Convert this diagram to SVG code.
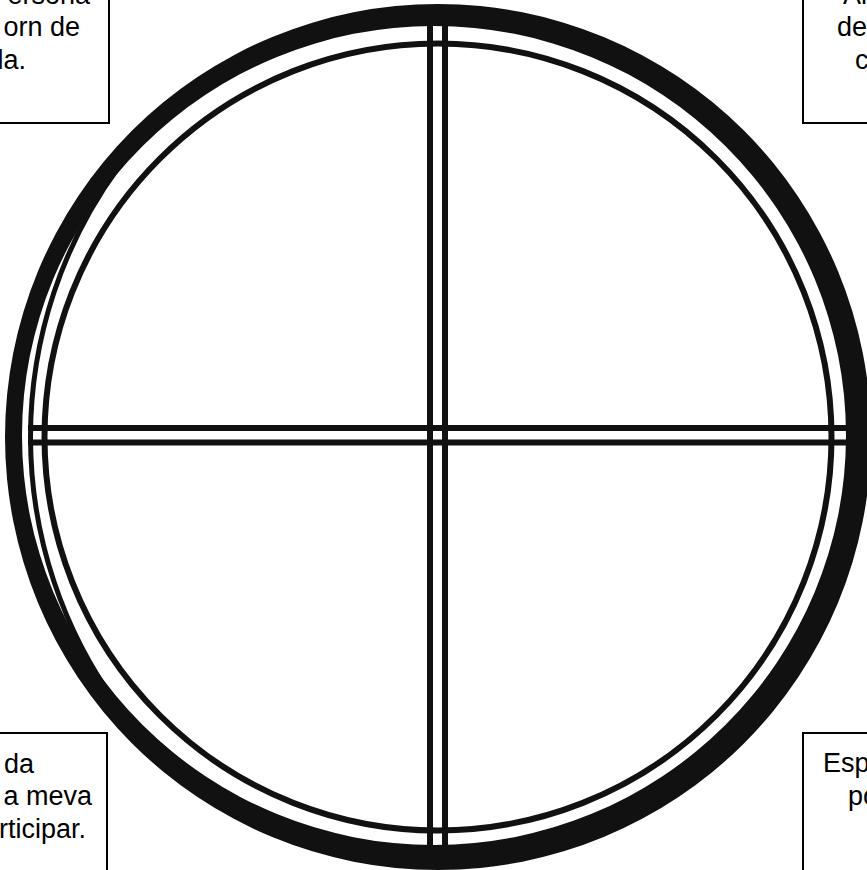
<svg xmlns="http://www.w3.org/2000/svg" width="867" height="870" viewBox="0 0 867 870">
  <style>
    .box { fill: #ffffff; stroke: #000000; stroke-width: 2; }
    .txt { font-family: "Liberation Sans", Arial, sans-serif; font-size: 27px; fill: #000000; }
    .ring { fill: none; stroke: #111111; }
    .bar { stroke: #111111; stroke-width: 6; }
  </style>
  <rect width="867" height="870" fill="#ffffff"/>

  <g id="wheel">
    <path d="M5,437 a433,433 0 1,0 866,0 a433,433 0 1,0 -866,0 M22,435.5 a412,409.5 0 1,0 824,0 a412,409.5 0 1,0 -824,0" fill="#111111" fill-rule="evenodd"/>
    <path class="ring" d="M117.8,168.3 A457.2,457.2 0 0,0 117.8,705.7" stroke-width="5"/>
    <circle class="ring" cx="438" cy="437" r="393.5" stroke-width="6"/>
  </g>

  <g id="cross">
    <line class="bar" x1="430" y1="24" x2="430" y2="848"/>
    <line class="bar" x1="445" y1="24" x2="445" y2="848"/>
    <line class="bar" x1="28" y1="428" x2="848" y2="428"/>
    <line class="bar" x1="28" y1="442.5" x2="848" y2="442.5"/>
  </g>

  <g id="box-top-left">
    <rect class="box" x="-10" y="-10" width="119" height="133"/>
    <text class="txt" x="90" y="4" text-anchor="end">ersona</text>
    <text class="txt" x="80" y="36" text-anchor="end">orn de</text>
    <text class="txt" x="26" y="69" text-anchor="end">la.</text>
  </g>

  <g id="box-top-right">
    <rect class="box" x="803" y="-10" width="80" height="133"/>
    <text class="txt" x="843" y="4">Ali</text>
    <text class="txt" x="837" y="36">de</text>
    <text class="txt" x="855" y="69">c</text>
  </g>

  <g id="box-bottom-left">
    <rect class="box" x="-10" y="733" width="117" height="150"/>
    <text class="txt" x="34" y="773" text-anchor="end">da</text>
    <text class="txt" x="92" y="805" text-anchor="end">a meva</text>
    <text class="txt" x="86" y="838" text-anchor="end">rticipar.</text>
  </g>

  <g id="box-bottom-right">
    <rect class="box" x="803" y="733" width="80" height="150"/>
    <text class="txt" x="823" y="772">Esp</text>
    <text class="txt" x="848" y="805">po</text>
  </g>
</svg>
